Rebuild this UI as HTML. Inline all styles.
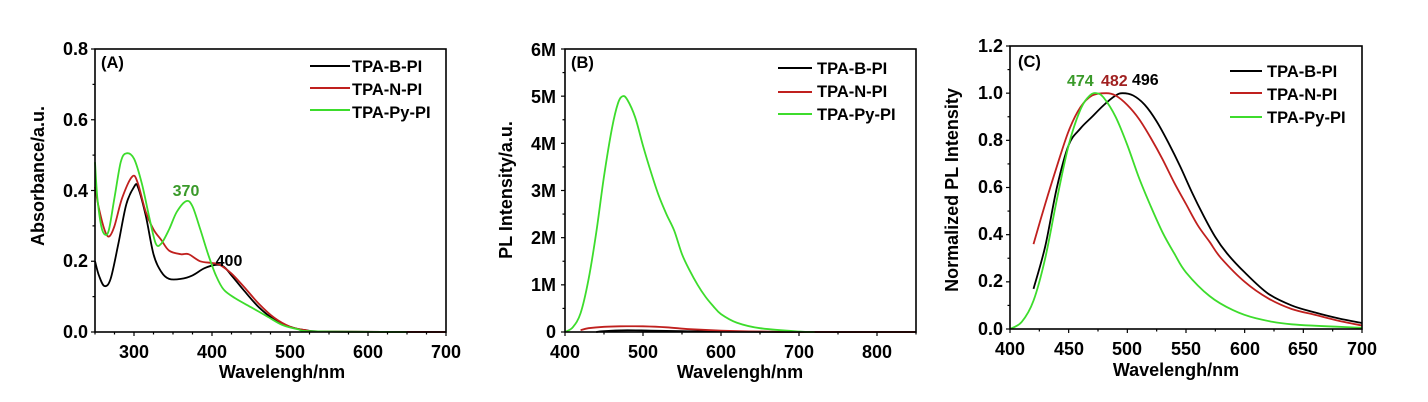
<!DOCTYPE html>
<html><head><meta charset="utf-8"><style>
body{margin:0;background:#fff;}
svg{display:block;font-family:"Liberation Sans",Arial,sans-serif;font-weight:bold;}
.t{font-size:18px;}
.ti{font-size:18px;}
.lg{font-size:16.5px;}
</style></head><body>
<svg id="s" width="1428" height="402" viewBox="0 0 1428 402" xmlns="http://www.w3.org/2000/svg">
<rect width="1428" height="402" fill="#fff"/>
<g id="plots"></g>
<!-- Panel A text -->
<g class="t" text-anchor="end">
<text x="88" y="55">0.8</text><text x="88" y="126">0.6</text><text x="88" y="197">0.4</text><text x="88" y="267">0.2</text><text x="88" y="338">0.0</text>
</g>
<g class="t" text-anchor="middle">
<text x="134" y="358">300</text><text x="212" y="358">400</text><text x="290" y="358">500</text><text x="368" y="358">600</text><text x="446" y="358">700</text>
</g>
<text class="ti" x="282" y="378" text-anchor="middle">Wavelengh/nm</text>
<text class="ti" transform="translate(44,176) rotate(-90)" text-anchor="middle">Absorbance/a.u.</text>
<text class="lg" x="101" y="68">(A)</text>
<text class="lg" x="352" y="72">TPA-B-PI</text><text class="lg" x="352" y="95">TPA-N-PI</text><text class="lg" x="352" y="118">TPA-Py-PI</text>
<text x="186" y="196" font-size="16" fill="#3a9a2a" text-anchor="middle">370</text>
<text x="229" y="266" font-size="16" text-anchor="middle">400</text>
<!-- Panel B text -->
<g class="t" text-anchor="end">
<text x="556" y="56">6M</text><text x="556" y="103">5M</text><text x="556" y="150">4M</text><text x="556" y="197">3M</text><text x="556" y="244">2M</text><text x="556" y="291">1M</text><text x="556" y="338">0</text>
</g>
<g class="t" text-anchor="middle">
<text x="565" y="358">400</text><text x="643" y="358">500</text><text x="721" y="358">600</text><text x="799" y="358">700</text><text x="877" y="358">800</text>
</g>
<text class="ti" x="740" y="378" text-anchor="middle">Wavelengh/nm</text>
<text class="ti" transform="translate(512,190) rotate(-90)" text-anchor="middle">PL Intensity/a.u.</text>
<text class="lg" x="571" y="68">(B)</text>
<text class="lg" x="817" y="74">TPA-B-PI</text><text class="lg" x="817" y="97">TPA-N-PI</text><text class="lg" x="817" y="120">TPA-Py-PI</text>
<!-- Panel C text -->
<g class="t" text-anchor="end">
<text x="1003" y="52">1.2</text><text x="1003" y="99">1.0</text><text x="1003" y="146">0.8</text><text x="1003" y="193">0.6</text><text x="1003" y="240">0.4</text><text x="1003" y="287">0.2</text><text x="1003" y="335">0.0</text>
</g>
<g class="t" text-anchor="middle">
<text x="1010" y="355">400</text><text x="1069" y="355">450</text><text x="1127" y="355">500</text><text x="1186" y="355">550</text><text x="1245" y="355">600</text><text x="1303" y="355">650</text><text x="1362" y="355">700</text>
</g>
<text class="ti" x="1176" y="376" text-anchor="middle">Wavelengh/nm</text>
<text class="ti" transform="translate(958,190) rotate(-90)" text-anchor="middle">Normalized PL Intensity</text>
<text class="lg" x="1018" y="67">(C)</text>
<text class="lg" x="1267" y="77">TPA-B-PI</text><text class="lg" x="1267" y="100">TPA-N-PI</text><text class="lg" x="1267" y="123">TPA-Py-PI</text>
<text x="1067" y="86" font-size="16" fill="#3a9a2a">474</text>
<text x="1101" y="86" font-size="16" fill="#a02020">482</text>
<text x="1132" y="85" font-size="16">496</text>
</svg>
<script>
var g=document.getElementById('plots'),NS='http://www.w3.org/2000/svg';
function el(n,a){var e=document.createElementNS(NS,n);for(var k in a)e.setAttribute(k,a[k]);g.appendChild(e);return e;}
var BK='#000',RD='#c0201e',GR='#3ddc2c';
function smooth(p){
 var d='M'+p[0][0].toFixed(1)+','+p[0][1].toFixed(1);
 for(var i=0;i<p.length-1;i++){
  var p0=p[i-1]||p[i],p1=p[i],p2=p[i+1],p3=p[i+2]||p2;
  var c1=[p1[0]+(p2[0]-p0[0])/6,p1[1]+(p2[1]-p0[1])/6],c2=[p2[0]-(p3[0]-p1[0])/6,p2[1]-(p3[1]-p1[1])/6];
  d+='C'+c1[0].toFixed(1)+','+c1[1].toFixed(1)+' '+c2[0].toFixed(1)+','+c2[1].toFixed(1)+' '+p2[0].toFixed(1)+','+p2[1].toFixed(1);
 }return d;}
function panel(P){
 var sx=function(v){return P.x0+(v-P.xa)/(P.xb-P.xa)*(P.x1-P.x0)};
 var sy=function(v){return P.y1-(v-P.ya)/(P.yb-P.ya)*(P.y1-P.y0)};
 P.series.forEach(function(s){
  var pts=[];for(var i=0;i<s.d.length;i+=2)pts.push([sx(s.d[i]),sy(s.d[i+1])]);
  el('path',{d:smooth(pts),fill:'none',stroke:s.c,'stroke-width':1.8,'stroke-linejoin':'round'});
 });
 el('rect',{x:P.x0,y:P.y0,width:P.x1-P.x0,height:P.y1-P.y0,fill:'none',stroke:'#000','stroke-width':1.6});
 for(var v=P.xa;v<=P.xb+1e-6;v+=P.xm){var X=sx(v);var maj=Math.abs(((v-P.xs)/P.xM)-Math.round((v-P.xs)/P.xM))<1e-6;
  el('line',{x1:X,x2:X,y1:P.y1,y2:P.y1+(maj?4:2.5),stroke:'#000','stroke-width':1.2});}
 for(var v=P.ya;v<=P.yb+1e-6;v+=P.ym){var Y=sy(v);var maj=Math.abs(((v-P.ya)/P.yM)-Math.round((v-P.ya)/P.yM))<1e-6;
  el('line',{x1:P.x0-(maj?4:2.5),x2:P.x0,y1:Y,y2:Y,stroke:'#000','stroke-width':1.2});}
 P.leg.forEach(function(l){el('line',{x1:l[0],x2:l[1],y1:l[2],y2:l[2],stroke:l[3],'stroke-width':2});});
}
panel({x0:95,x1:446,y0:49,y1:332,xa:250,xb:700,ya:0,yb:0.8,xm:25,xM:100,xs:300,ym:0.1,yM:0.2,
 leg:[[310,350,66,BK],[310,350,88,RD],[310,350,110,GR]],
 series:[
 {c:BK,d:[250,.2,255,.16,262,.13,270,.15,280,.25,290,.36,300,.41,305,.41,315,.33,325,.22,335,.17,345,.15,360,.15,375,.16,390,.18,405,.19,415,.185,425,.16,440,.12,460,.07,480,.035,500,.015,520,.005,550,.001,700,0]},
 {c:RD,d:[250,.41,255,.35,262,.29,268,.27,275,.3,285,.38,298,.44,305,.42,315,.34,325,.29,335,.26,345,.23,360,.22,370,.22,385,.2,400,.195,410,.19,425,.165,440,.13,460,.08,480,.04,500,.015,520,.005,545,.001,700,0]},
 {c:GR,d:[250,.48,253,.38,258,.3,263,.275,268,.29,275,.38,283,.48,290,.505,300,.49,310,.42,320,.32,328,.25,335,.25,345,.29,355,.34,367,.37,375,.355,385,.29,395,.22,405,.16,415,.12,430,.095,450,.07,470,.045,490,.02,510,.008,530,.002,650,0]}]});
panel({x0:565,x1:916,y0:49,y1:332,xa:400,xb:850,ya:0,yb:6,xm:50,xM:100,xs:400,ym:0.5,yM:1,
 leg:[[778,812,68,BK],[778,812,92,RD],[778,812,114,GR]],
 series:[
 {c:BK,d:[440,0,450,.02,480,.035,510,.03,550,.02,600,.008,700,0,850,0]},
 {c:RD,d:[420,.04,430,.08,450,.11,470,.12,500,.12,530,.1,560,.06,600,.03,650,.01,700,.002,850,0]},
 {c:GR,d:[400,0,410,.1,420,.4,430,1.1,440,2.1,450,3.3,460,4.3,468,4.85,474,5,480,4.92,490,4.55,500,3.95,510,3.4,520,2.9,530,2.5,540,2.15,550,1.65,560,1.3,570,1,580,.75,590,.55,600,.38,620,.2,650,.08,700,.01,720,0]}]});
panel({x0:1010,x1:1362,y0:46,y1:329,xa:400,xb:700,ya:0,yb:1.2,xm:25,xM:50,xs:400,ym:0.1,yM:0.2,
 leg:[[1230,1262,71,BK],[1230,1262,93,RD],[1230,1262,117,GR]],
 series:[
 {c:BK,d:[420,.17,430,.35,440,.6,450,.78,460,.85,470,.9,480,.95,490,.99,496,1,505,.99,515,.95,525,.88,535,.79,545,.69,555,.58,565,.48,575,.39,585,.32,600,.24,620,.15,640,.1,660,.07,680,.045,700,.025]},
 {c:RD,d:[420,.36,430,.53,440,.69,450,.84,460,.94,470,.99,482,1,490,.99,500,.95,510,.89,520,.81,530,.72,540,.62,550,.53,560,.44,570,.37,580,.3,600,.2,620,.13,640,.085,660,.06,680,.035,700,.015]},
 {c:GR,d:[400,0,410,.03,420,.12,430,.3,440,.55,450,.78,460,.93,468,.99,474,1,480,.98,490,.9,500,.78,510,.64,520,.52,530,.41,540,.32,550,.24,570,.14,590,.08,610,.045,640,.02,700,.005]}]});
</script>
</body></html>
